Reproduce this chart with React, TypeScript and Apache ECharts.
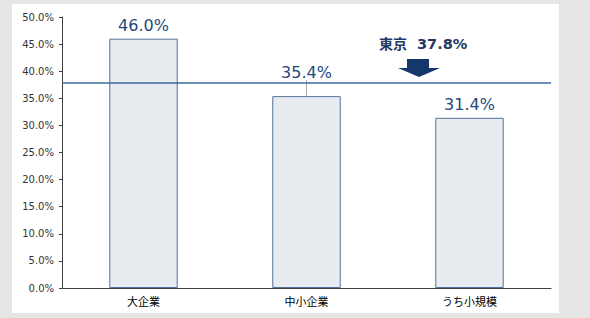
import React, { useEffect, useRef } from "react";
import * as echarts from "echarts";

const categories = ["大企業", "中小企業", "うち小規模"];
const values = [46.0, 35.4, 31.4];
const tokyoValue = 37.8;
const tokyoLabel = "東京";
const yTicks = { min: 0, max: 50, interval: 5 };

export default function App() {
  const ref = useRef<HTMLDivElement>(null);
  useEffect(() => {
    if (!ref.current) return;
    const chart = echarts.init(ref.current, undefined, { renderer: "svg" });
    const numFont = "'DejaVu Sans', Verdana, sans-serif";
    const jpFont = "'Noto Sans CJK JP', sans-serif";
    chart.setOption({
      animation: false,
      grid: { left: 62, right: 39, top: 17, bottom: 30 },
      xAxis: {
        type: "category",
        data: categories,
        axisLine: { lineStyle: { color: "#404040", width: 1 } },
        axisTick: { show: false },
        axisLabel: { color: "#000", fontSize: 11, fontFamily: jpFont, margin: 7 },
      },
      yAxis: {
        type: "value",
        min: yTicks.min,
        max: yTicks.max,
        interval: yTicks.interval,
        axisLine: { show: true, lineStyle: { color: "#404040", width: 1 } },
        axisTick: { show: true, length: 3, lineStyle: { color: "#404040" } },
        splitLine: { show: false },
        axisLabel: {
          color: "#333",
          fontSize: 10,
          fontFamily: numFont,
          margin: 8,
          formatter: (v: number) => v.toFixed(1) + "%",
        },
      },
      series: [
        {
          type: "bar",
          barWidth: "42%",
          data: values.map((v, i) => ({
            value: v,
            labelLine: i === 1 ? { show: true, lineStyle: { color: "#aaaaaa", width: 1 } } : { show: false },
          })),
          itemStyle: { color: "#e8ecf1", borderColor: "#52739b", borderWidth: 1 },
          label: {
            show: true,
            position: "top",
            distance: 5,
            color: "#1f497d",
            fontSize: 16,
            fontFamily: numFont,
            formatter: (p: any) => p.value.toFixed(1) + "%",
          },
          labelLayout: (p: any) => (p.dataIndex === 1 ? { dy: -11 } : {}),
          markLine: {
            silent: true,
            symbol: "none",
            label: { show: false },
            lineStyle: { color: "#3b6ba3", width: 1.5, type: "solid" },
            data: [{ yAxis: tokyoValue }],
          },
        },
      ],
      graphic: [
        {
          type: "text",
          left: 379,
          top: 36,
          style: {
            text: tokyoLabel,
            fontSize: 14,
            fontWeight: "bold",
            fontFamily: jpFont,
            fill: "#1f3a63",
          },
        },
        {
          type: "text",
          left: 417,
          top: 36,
          style: {
            text: tokyoValue.toFixed(1) + "%",
            fontSize: 14.5,
            fontWeight: "bold",
            fontFamily: numFont,
            fill: "#1f3a63",
          },
        },
        {
          type: "polygon",
          shape: {
            points: [
              [407, 59],
              [429, 59],
              [429, 68],
              [440, 68],
              [419, 77],
              [398, 68],
              [407, 68],
            ],
          },
          style: { fill: "#14386a" },
        },
      ],
    });
    return () => chart.dispose();
  }, []);
  return (
    <div style={{ position: "fixed", left: 0, top: 0, width: 590, height: 318, background: "#e5e5e5" }}>
      <div style={{ position: "absolute", left: 12, top: 4, width: 547, height: 309, background: "#fff" }} />
      <div ref={ref} style={{ position: "absolute", left: 0, top: 0, width: 590, height: 318 }} />
    </div>
  );
}
